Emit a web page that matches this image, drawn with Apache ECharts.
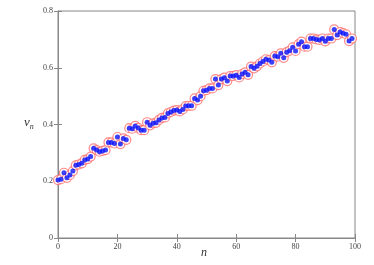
<!DOCTYPE html>
<html><head><meta charset="utf-8">
<script src="https://cdn.jsdelivr.net/npm/echarts@6/dist/echarts.min.js"></script>
<style>html,body{margin:0;padding:0;background:#fff}#c{width:374px;height:265px}</style>
</head><body><div id="c"></div>
<script>
const xTicks = [0, 20, 40, 60, 80, 100];
const yTicks = [0, 0.2, 0.4, 0.6, 0.8];
const nValues = Array.from({length: 100}, (_, i) => i);
const vValues = [
0.204,0.207,0.230,0.212,0.222,0.236,0.256,0.259,0.263,0.275,
0.278,0.287,0.316,0.310,0.304,0.307,0.310,0.337,0.337,0.333,
0.356,0.331,0.351,0.346,0.387,0.385,0.395,0.388,0.380,0.380,
0.408,0.397,0.404,0.406,0.416,0.423,0.425,0.439,0.444,0.449,
0.451,0.446,0.453,0.465,0.466,0.466,0.492,0.486,0.500,0.519,
0.521,0.527,0.527,0.560,0.539,0.560,0.565,0.553,0.571,0.571,
0.574,0.566,0.578,0.584,0.575,0.604,0.598,0.605,0.615,0.622,
0.630,0.627,0.619,0.641,0.639,0.651,0.635,0.655,0.660,0.672,
0.659,0.683,0.692,0.674,0.674,0.703,0.703,0.700,0.698,0.703,
0.693,0.703,0.703,0.735,0.715,0.726,0.722,0.718,0.694,0.703
];
const pts = nValues.map((n, i) => [n, vValues[i]]);
const axisCol = '#888';
const lblStyle = {fontFamily: 'Liberation Serif', fontSize: 8, color: '#444'};
const chart = echarts.init(document.getElementById('c'));
chart.setOption({
  animation: false,
  grid: {left: 58, right: 19, top: 11, bottom: 27, show: true, borderColor: axisCol, borderWidth: 1},
  xAxis: [
    {type: 'value', min: xTicks[0], max: xTicks[xTicks.length-1], interval: 20, position: 'bottom',
     axisLine: {lineStyle: {color: axisCol}}, axisTick: {inside: true, length: 4, lineStyle: {color: axisCol}},
     splitLine: {show: false}, axisLabel: Object.assign({margin: 5}, lblStyle)},
    {type: 'value', min: xTicks[0], max: xTicks[xTicks.length-1], interval: 20, position: 'top',
     axisLine: {lineStyle: {color: axisCol}}, axisTick: {inside: true, length: 4, lineStyle: {color: axisCol}},
     splitLine: {show: false}, axisLabel: {show: false}}
  ],
  yAxis: [
    {type: 'value', min: yTicks[0], max: yTicks[yTicks.length-1], interval: 0.2, position: 'left',
     axisLine: {show: true, lineStyle: {color: axisCol}}, axisTick: {show: true, inside: true, length: 4, lineStyle: {color: axisCol}},
     splitLine: {show: false}, axisLabel: Object.assign({margin: 5, formatter: v => String(+v.toFixed(1))}, lblStyle)},
    {type: 'value', min: yTicks[0], max: yTicks[yTicks.length-1], interval: 0.2, position: 'right',
     axisLine: {show: true, lineStyle: {color: axisCol}}, axisTick: {show: true, inside: true, length: 4, lineStyle: {color: axisCol}},
     splitLine: {show: false}, axisLabel: {show: false}}
  ],
  graphic: [
    {type: 'text', left: 24, top: 116, style: {
      text: '{v|v}{s|n}', rich: {
        v: {fontFamily: 'Liberation Serif', fontStyle: 'italic', fontSize: 13, fill: '#333'},
        s: {fontFamily: 'Liberation Serif', fontStyle: 'italic', fontSize: 8, fill: '#333', padding: [8, 0, 0, 0]}
      }}},
    {type: 'text', left: 201, top: 247, style: {text: 'n', fontFamily: 'Liberation Serif', fontStyle: 'italic', fontSize: 12, fill: '#333'}}
  ],
  series: [
    {type: 'scatter', data: pts, symbol: 'circle', symbolSize: 9,
     itemStyle: {color: '#fff', borderColor: '#ff6a6a', borderWidth: 1.2}, z: 2},
    {type: 'scatter', data: pts, symbol: 'circle', symbolSize: 5,
     itemStyle: {color: '#0a14ff'}, z: 3}
  ]
});
</script></body></html>
